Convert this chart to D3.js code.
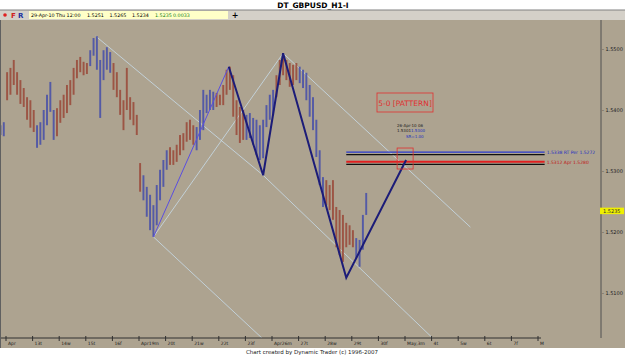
<!DOCTYPE html>
<html>
<head>
<meta charset="utf-8">
<script src="https://d3js.org/d3.v7.min.js"></script>
<style>
  body { margin: 0; background: #fff; }
  svg { display: block; font-family: Tahoma, "DejaVu Sans", sans-serif; }
</style>
</head>
<body>
<svg id="chart"></svg>
<script>
// GBPUSD hourly, drawn as 3-hour bars. Time = trading hours since Mon 12-Apr-2010 00:00
const barStart = -5;
const barStep = 3;
const barHigh = [1.5375, 1.5380, 1.5462, 1.5469, 1.5482, 1.5462, 1.5449, 1.5436, 1.5421, 1.5416,
  1.5400, 1.5375, 1.5380, 1.5400, 1.5425, 1.5446, 1.5400, 1.5403, 1.5416, 1.5425,
  1.5441, 1.5449, 1.5469, 1.5482, 1.5487, 1.5479, 1.5477, 1.5498, 1.5518, 1.5521,
  1.5482, 1.5498, 1.5503, 1.5495, 1.5477, 1.5462, 1.5433, 1.5416, 1.5469, 1.5421,
  1.5413, 1.5392, 1.5313, 1.5293, 1.5274, 1.5261, 1.5244, 1.5277, 1.5302, 1.5318,
  1.5334, 1.5339, 1.5334, 1.5343, 1.5359, 1.5362, 1.5380, 1.5384, 1.5375, 1.5372,
  1.5400, 1.5433, 1.5425, 1.5433, 1.5430, 1.5428, 1.5425, 1.5441, 1.5466, 1.5471,
  1.5457, 1.5416, 1.5405, 1.5400, 1.5392, 1.5395, 1.5387, 1.5384, 1.5375, 1.5384,
  1.5408, 1.5425, 1.5433, 1.5457, 1.5482, 1.5493, 1.5482, 1.5477, 1.5474, 1.5477,
  1.5471, 1.5466, 1.5461, 1.5441, 1.5421, 1.5384, 1.5334, 1.5290, 1.5285, 1.5277,
  1.5285, 1.5241, 1.5236, 1.5228, 1.5215, 1.5211, 1.5203, 1.5190, 1.5187, 1.5228, 1.5264];
const barLow = [1.5359, 1.5357, 1.5416, 1.5425, 1.5441, 1.5425, 1.5410, 1.5405, 1.5384, 1.5371,
  1.5364, 1.5338, 1.5343, 1.5351, 1.5375, 1.5397, 1.5351, 1.5357, 1.5379, 1.5387,
  1.5395, 1.5408, 1.5425, 1.5452, 1.5462, 1.5457, 1.5459, 1.5472, 1.5489, 1.5466,
  1.5387, 1.5449, 1.5466, 1.5461, 1.5433, 1.5421, 1.5392, 1.5367, 1.5400, 1.5384,
  1.5375, 1.5359, 1.5266, 1.5252, 1.5225, 1.5203, 1.5192, 1.5211, 1.5252, 1.5274,
  1.5302, 1.5310, 1.5310, 1.5315, 1.5326, 1.5334, 1.5348, 1.5351, 1.5343, 1.5334,
  1.5351, 1.5367, 1.5395, 1.5400, 1.5400, 1.5405, 1.5408, 1.5408, 1.5425, 1.5433,
  1.5389, 1.5359, 1.5346, 1.5351, 1.5351, 1.5354, 1.5343, 1.5326, 1.5318, 1.5321,
  1.5372, 1.5384, 1.5392, 1.5421, 1.5441, 1.5457, 1.5449, 1.5438, 1.5441, 1.5449,
  1.5444, 1.5436, 1.5416, 1.5389, 1.5367, 1.5323, 1.5277, 1.5241, 1.5244, 1.5236,
  1.5220, 1.5175, 1.5162, 1.5151, 1.5175, 1.5179, 1.5175, 1.5157, 1.5143, 1.5171, 1.5228];
// swing colouring: index of first bar of each swing and its direction
const swingStart = [0, 2, 11, 17, 27, 34, 43, 51, 59, 65, 74, 83, 90, 98, 107];
const swingDir = ['up', 'down', 'up', 'down', 'up', 'down', 'up', 'down', 'up', 'down', 'up', 'down', 'up', 'down', 'up'];

// 5-0 pattern points X A B C D E
const patternHour = [133, 201, 232, 250, 307, 361];
const patternPrice = [1.5192, 1.5471, 1.5293, 1.5493, 1.5125, 1.5318];

// light trend lines [hour0, price0, hour1, price1]
const trendLines = [
  [81, 1.5521, 232, 1.5293],
  [133, 1.5192, 250, 1.5493],
  [133, 1.5192, 231, 1.5026],
  [232, 1.5293, 385, 1.5026],
  [250, 1.5493, 419, 1.5208]
];

// projected levels
const levelPrice = [1.5331, 1.5315];
const levelLabel = ['1.5338 RT Per 1.5272', '1.5312 Apr 1.5280'];
const levelColor = ['#2a3ad0', '#e02020'];
const levelFrom = 307, levelTo = 486;

const dayLabels = ['Apr', '13t', '14w', '15t', '16f', 'Apr19m', '20t', '21w', '22t', '23f',
  'Apr26m', '27t', '28w', '29t', '30f', 'May,3m', '4t', '5w', '6t', '7f', 'M'];
const priceTicks = [1.51, 1.52, 1.53, 1.54, 1.55];

const quoteTime = '29-Apr-10 Thu 12:00';
const quoteOHLC = [1.5251, 1.5265, 1.5234, 1.5235];
const quoteChange = 0.0033;
const lastPrice = 1.5235;

const W = 625, H = 355;
const svg = d3.select('#chart').attr('width', W).attr('height', H);

const plot = { left: 0, right: 601, top: 20, bottom: 338 };

const x = d3.scaleLinear().domain([0, 480]).range([6, 538]);
const y = d3.scaleLinear().domain([1.51, 1.55]).range([293, 49]);

const defs = svg.append('defs');
defs.append('clipPath').attr('id', 'clip')
  .append('rect').attr('x', plot.left).attr('y', plot.top)
    .attr('width', plot.right - plot.left).attr('height', plot.bottom - plot.top);

svg.append('rect').attr('width', W).attr('height', H).attr('fill', '#fff');
svg.append('rect').attr('x', 0).attr('y', 20).attr('width', W).attr('height', 328).attr('fill', '#ada390');

// title bar + toolbar
svg.append('rect').attr('x', 0).attr('y', 0).attr('width', W).attr('height', 10).attr('fill', '#fff');
svg.append('text').attr('x', 313).attr('y', 8).attr('text-anchor', 'middle')
  .attr('font-size', 7.5).attr('font-weight', 'bold').text('DT_GBPUSD_H1-I');
svg.append('rect').attr('x', 0).attr('y', 10).attr('width', W).attr('height', 10).attr('fill', '#d4d0c8');
svg.append('line').attr('x1', 0).attr('x2', W).attr('y1', 10).attr('y2', 10).attr('stroke', '#808080');
svg.append('circle').attr('cx', 5).attr('cy', 15).attr('r', 1.8).attr('fill', '#e02020');
svg.append('text').attr('x', 11).attr('y', 18).attr('font-size', 7).attr('font-weight', 'bold').attr('fill', '#d02020').text('F');
svg.append('text').attr('x', 18).attr('y', 18).attr('font-size', 7).attr('font-weight', 'bold').attr('fill', '#2030a0').text('R');
svg.append('rect').attr('x', 29).attr('y', 11).attr('width', 199).attr('height', 8).attr('fill', '#ffffc8');
const q = svg.append('text').attr('y', 17.3).attr('font-size', 4.8);
q.append('tspan').attr('x', 31).text(quoteTime);
quoteOHLC.slice(0, 3).forEach((v, i) => q.append('tspan').attr('x', 87 + i * 22.5).text(v.toFixed(4)));
q.append('tspan').attr('x', 155).attr('fill', '#108010').text(quoteOHLC[3].toFixed(4));
q.append('tspan').attr('x', 173).attr('fill', '#108010').text(quoteChange.toFixed(4));
svg.append('text').attr('x', 235).attr('y', 18).attr('text-anchor', 'middle').attr('font-size', 8)
  .attr('font-weight', 'bold').text('+');

const chart = svg.append('g').attr('clip-path', 'url(#clip)');

// light trend lines
chart.selectAll('.trend')
  .data(trendLines)
  .join('line')
    .attr('class', 'trend')
    .attr('x1', d => x(d[0])).attr('y1', d => y(d[1]))
    .attr('x2', d => x(d[2])).attr('y2', d => y(d[3]))
    .attr('stroke', '#c8dcea').attr('stroke-width', 0.8);

// price bars
const bars = barHigh.map((h, i) => {
  let s = 0;
  while (s + 1 < swingStart.length && swingStart[s + 1] <= i) s++;
  return { hour: barStart + i * barStep, high: h, low: barLow[i], dir: swingDir[s] };
});
const barColor = d3.scaleOrdinal().domain(['up', 'down']).range(['#4850a8', '#9a4a3a']);
const bw = x(barStep) - x(0);
chart.selectAll('.bar')
  .data(bars)
  .join('rect')
    .attr('class', 'bar')
    .attr('x', d => x(d.hour) - bw / 2 + 0.7)
    .attr('width', bw - 1.4)
    .attr('y', d => y(d.high))
    .attr('height', d => y(d.low) - y(d.high))
    .attr('fill', d => barColor(d.dir))
    .attr('opacity', 0.88);

// levels
levelPrice.forEach((p, i) => {
  chart.append('line')
    .attr('x1', x(levelFrom)).attr('x2', x(levelTo))
    .attr('y1', y(p) + 2.5).attr('y2', y(p) + 2.5)
    .attr('stroke', '#101010').attr('stroke-width', 1.2);
  chart.append('line')
    .attr('x1', x(levelFrom)).attr('x2', x(levelTo))
    .attr('y1', y(p)).attr('y2', y(p))
    .attr('stroke', levelColor[i]).attr('stroke-width', i == 1 ? 2 : 1.3);
  svg.append('text')
    .attr('x', x(levelTo) + 2).attr('y', y(p) + 2)
    .attr('font-size', 4.5).attr('fill', i == 1 ? '#c01818' : '#2030c0')
    .text(levelLabel[i]);
});

// 5-0 pattern
const pts = patternHour.map((h, i) => [x(h), y(patternPrice[i])]);
chart.append('path')
  .attr('d', d3.line()(pts.slice(0, 2)))
  .attr('fill', 'none').attr('stroke', '#5a4ee0').attr('stroke-width', 1);
chart.append('path')
  .attr('d', d3.line()(pts.slice(1)))
  .attr('fill', 'none').attr('stroke', '#1c1c78').attr('stroke-width', 2);

// completion box and label
const e = pts[5];
chart.append('rect').attr('x', e[0] - 9).attr('y', e[1] - 12).attr('width', 16).attr('height', 21)
  .attr('fill', 'none').attr('stroke', '#e03030').attr('stroke-width', 0.8);
chart.append('rect').attr('x', 377).attr('y', 93).attr('width', 56).attr('height', 19)
  .attr('fill', 'none').attr('stroke', '#e03030').attr('stroke-width', 0.8);
chart.append('text').attr('x', 405).attr('y', 105.5).attr('text-anchor', 'middle')
  .attr('font-size', 7.5).attr('fill', '#e03030').text('5-0 [PATTERN]');

const info = chart.append('g').attr('font-size', 4).attr('fill', '#2030c0');
info.append('text').attr('x', 397).attr('y', 127).attr('fill', '#202020').text('26-Apr-10 06');
info.append('text').attr('x', 397).attr('y', 132).attr('fill', '#202020').text('1.5301');
info.append('text').attr('x', 411).attr('y', 132).text('1.5300');
info.append('text').attr('x', 406).attr('y', 137.5).text('SR=1.00');

// right price axis
svg.append('line').attr('x1', 601).attr('x2', 601).attr('y1', 20).attr('y2', 338)
  .attr('stroke', '#505050').attr('stroke-width', 1);
svg.selectAll('.ptick')
  .data(priceTicks)
  .join('text')
    .attr('class', 'ptick')
    .attr('x', 602).attr('y', d => y(d) + 2)
    .attr('font-size', 5).attr('fill', '#202020')
    .text(d => '- ' + d.toFixed(4));
svg.append('rect').attr('x', 600).attr('y', y(lastPrice) - 3).attr('width', 24).attr('height', 6.5)
  .attr('fill', '#f0f000');
svg.append('text').attr('x', 603).attr('y', y(lastPrice) + 2).attr('font-size', 5).attr('fill', '#303030')
  .text(lastPrice.toFixed(4));

// bottom time axis
const dayIdx = d3.range(dayLabels.length);
svg.append('line').attr('x1', 0).attr('x2', x(480) + 3).attr('y1', 338).attr('y2', 338)
  .attr('stroke', '#303030');
svg.selectAll('.dtick')
  .data(dayIdx)
  .join('line')
    .attr('class', 'dtick')
    .attr('x1', d => x(d * 24)).attr('x2', d => x(d * 24))
    .attr('y1', 336).attr('y2', 341)
    .attr('stroke', '#303030');
svg.selectAll('.dlabel')
  .data(dayIdx)
  .join('text')
    .attr('class', 'dlabel')
    .attr('x', d => x(d * 24) + 2).attr('y', 345)
    .attr('font-size', 4.5).attr('fill', '#202020')
    .text(d => dayLabels[d]);

// frame + footer
svg.append('line').attr('x1', 0.5).attr('x2', 0.5).attr('y1', 20).attr('y2', 348).attr('stroke', '#606060');
svg.append('rect').attr('x', 0).attr('y', 348).attr('width', W).attr('height', 7).attr('fill', '#fff');
svg.append('text').attr('x', 312).attr('y', 354).attr('text-anchor', 'middle')
  .attr('font-size', 5.5).attr('fill', '#202020').text('Chart created by Dynamic Trader  (c)  1996-2007');
</script>
</body>
</html>
